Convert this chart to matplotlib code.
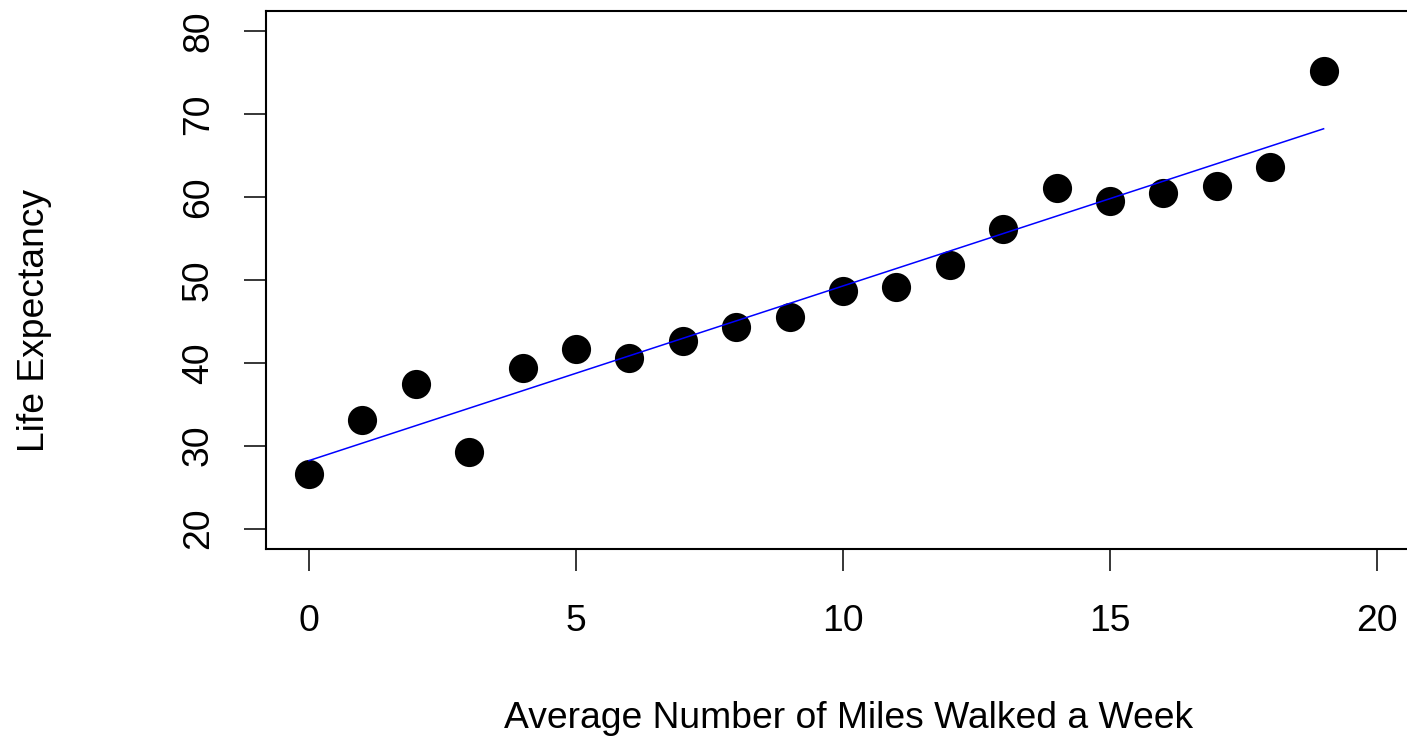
import matplotlib
matplotlib.use("Agg")
import matplotlib.pyplot as plt

# ---- data ----
miles = [0, 1, 2, 3, 4, 5, 6, 7, 8, 9, 10, 11, 12, 13, 14, 15, 16, 17, 18, 19]
life_expectancy = [26.6, 33.05, 37.4, 29.24, 39.36, 41.69, 40.57, 42.57, 44.30, 45.5,
                   48.59, 49.1, 51.72, 56.14, 61.04, 59.55, 60.43, 61.28, 63.57, 75.2]
fit_x = [0, 19]
fit_y = [28.2, 68.2]
x_ticks = [0, 5, 10, 15, 20]
y_ticks = [20, 30, 40, 50, 60, 70, 80]
x_label = "Average Number of Miles Walked a Week"
y_label = "Life Expectancy"

plt.rcParams['font.family'] = ['Liberation Sans', 'DejaVu Sans']

FS = 26.8
W, H = 1407, 737
fig = plt.figure(figsize=(W / 100, H / 100), dpi=100)
ax = fig.add_axes([266.3 / W, 1 - 548.5 / H, (1419.7 - 266.3) / W, (548.5 - 11.0) / H])

ax.plot(miles, life_expectancy, 'o', color='black', markersize=21, markeredgewidth=0)
ax.plot(fit_x, fit_y, color='#0000FF', linewidth=1.1)

ax.set_xlim(-0.8, 20.8)
ax.set_ylim(17.6, 82.4)
ax.set_xticks(x_ticks)
ax.set_yticks(y_ticks)
ax.set_xticklabels([str(v) for v in x_ticks])
ax.set_yticklabels([str(v) for v in y_ticks])

for s in ax.spines.values():
    s.set_linewidth(1.5)
    s.set_color('black')

ax.tick_params(axis='both', direction='out', length=15.8, width=1.1, labelsize=FS,
               colors='black')
ax.tick_params(axis='x', pad=24)
ax.tick_params(axis='y', pad=33, labelrotation=90)
for lab in ax.get_yticklabels():
    lab.set_ha('center')
    lab.set_va('center')

fig.text(849 / W, 1 - 728.3 / H, x_label, ha='center', va='baseline', fontsize=FS)
fig.text(35 / W, 1 - 321 / H, y_label, ha='center', va='center', rotation=90, fontsize=FS)

fig.savefig("out.png", dpi=100)
